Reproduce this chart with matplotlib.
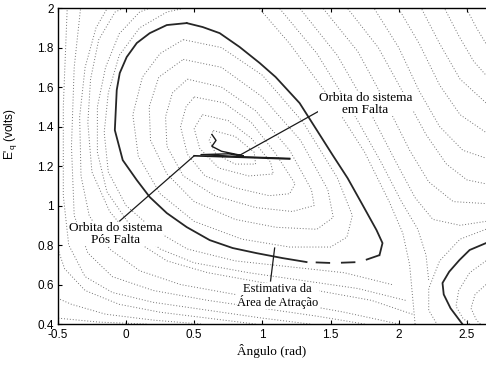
import matplotlib
matplotlib.use("Agg")
import matplotlib.pyplot as plt

# estimativa da area de atracao (curva cheia)
basin_x = [0.445, 0.562, 0.687, 0.833, 0.980, 1.097, 1.273, 1.390, 1.515, 1.625, 1.727, 1.837,
           1.881, 1.859, 1.712, 1.515, 1.324, 1.148, 0.958, 0.782, 0.614, 0.445, 0.299, 0.174,
           0.079, -0.024, -0.082, -0.068, -0.046, 0.005, 0.079, 0.174, 0.299, 0.445]
basin_y = [1.924, 1.904, 1.873, 1.803, 1.722, 1.651, 1.519, 1.392, 1.256, 1.139, 1.013, 0.876,
           0.810, 0.749, 0.714, 0.709, 0.714, 0.734, 0.759, 0.785, 0.825, 0.891, 0.962, 1.043,
           1.129, 1.230, 1.382, 1.585, 1.671, 1.752, 1.823, 1.873, 1.914, 1.924]

# separatriz no canto inferior direito
sep_x = [2.64, 2.52, 2.445, 2.37, 2.321, 2.330, 2.380, 2.445, 2.467]
sep_y = [0.810, 0.775, 0.724, 0.665, 0.608, 0.550, 0.480, 0.420, 0.400]

# orbita do sistema em falta
fault_x = [0.50, 0.86, 1.20]
fault_y = [1.252, 1.244, 1.236]

# orbita do sistema pos falta
post_x = [1.20, 0.86, 0.55, 0.75, 0.86, 0.70, 0.63, 0.66, 0.63]
post_y = [1.239, 1.247, 1.258, 1.262, 1.252, 1.275, 1.300, 1.330, 1.360]

# trajetorias pontilhadas
inner = [
    ([0.42, 0.70, 1.00, 1.30, 1.55, 1.66, 1.62, 1.50, 1.20, 0.85, 0.50, 0.25, 0.09, 0.05, 0.12, 0.25, 0.42],
     [1.84, 1.80, 1.66, 1.42, 1.14, 0.95, 0.84, 0.79, 0.79, 0.83, 0.92, 1.06, 1.25, 1.46, 1.65, 1.77, 1.84]),
    ([0.42, 0.70, 1.00, 1.28, 1.48, 1.52, 1.40, 1.10, 0.80, 0.50, 0.30, 0.18, 0.17, 0.24, 0.42],
     [1.74, 1.70, 1.55, 1.33, 1.08, 0.94, 0.88, 0.89, 0.93, 1.02, 1.16, 1.33, 1.50, 1.65, 1.74]),
    ([0.45, 0.70, 0.95, 1.20, 1.36, 1.38, 1.22, 0.95, 0.65, 0.42, 0.30, 0.29, 0.34, 0.45],
     [1.64, 1.60, 1.48, 1.28, 1.08, 1.00, 0.97, 0.99, 1.05, 1.15, 1.30, 1.45, 1.57, 1.64]),
    ([0.50, 0.72, 0.92, 1.10, 1.24, 1.20, 1.05, 0.80, 0.58, 0.45, 0.40, 0.44, 0.50],
     [1.55, 1.52, 1.42, 1.26, 1.11, 1.06, 1.05, 1.09, 1.15, 1.26, 1.40, 1.50, 1.55]),
    ([0.56, 0.75, 0.92, 1.06, 1.08, 0.90, 0.68, 0.54, 0.50, 0.56],
     [1.46, 1.43, 1.34, 1.22, 1.16, 1.15, 1.19, 1.29, 1.39, 1.46]),
    ([0.64, 0.80, 0.94, 0.95, 0.80, 0.66, 0.61, 0.64],
     [1.38, 1.35, 1.27, 1.21, 1.21, 1.26, 1.33, 1.38]),
]

outer = [
    ([1.95, 1.6, 1.2, 0.8, 0.45, 0.2, 0.0, -0.13, -0.16, -0.13, -0.05, 0.1, 0.3, 0.5, 0.7],
     [0.60, 0.66, 0.69, 0.72, 0.78, 0.88, 1.0, 1.17, 1.37, 1.57, 1.76, 1.9, 1.98, 2.01, 2.02]),
    ([2.05, 1.7, 1.3, 0.9, 0.5, 0.25, 0.02, -0.14, -0.21, -0.21, -0.15, -0.05, 0.1, 0.25],
     [0.52, 0.58, 0.62, 0.66, 0.71, 0.78, 0.91, 1.07, 1.27, 1.50, 1.70, 1.87, 1.98, 2.02]),
    ([2.1, 1.8, 1.4, 1.0, 0.6, 0.3, 0.05, -0.12, -0.25, -0.28, -0.26, -0.2, -0.08, 0.05],
     [0.45, 0.52, 0.57, 0.61, 0.66, 0.72, 0.83, 0.97, 1.17, 1.42, 1.64, 1.84, 1.98, 2.02]),
    ([2.0, 1.6, 1.2, 0.8, 0.4, 0.1, -0.12, -0.27, -0.33, -0.34, -0.30, -0.22, -0.12],
     [0.40, 0.46, 0.51, 0.55, 0.60, 0.67, 0.78, 0.95, 1.15, 1.45, 1.7, 1.9, 2.02]),
    ([1.75, 1.4, 1.0, 0.6, 0.2, -0.1, -0.28, -0.38, -0.40, -0.38, -0.33],
     [0.40, 0.44, 0.48, 0.52, 0.57, 0.64, 0.76, 0.95, 1.3, 1.7, 2.02]),
    ([1.35, 1.0, 0.6, 0.2, -0.1, -0.3, -0.42, -0.46, -0.46, -0.43],
     [0.40, 0.43, 0.47, 0.51, 0.56, 0.64, 0.80, 1.05, 1.5, 2.02]),
    ([0.95, 0.6, 0.25, -0.05, -0.3, -0.45, -0.5],
     [0.40, 0.43, 0.46, 0.50, 0.57, 0.68, 0.78]),
    ([0.55, 0.2, -0.15, -0.4, -0.5], [0.40, 0.42, 0.45, 0.50, 0.53]),
    ([0.15, -0.2, -0.5], [0.40, 0.41, 0.43]),
    ([0.95, 1.2, 1.5, 1.75, 1.93, 2.03, 2.08, 2.10, 2.12],
     [2.02, 1.82, 1.54, 1.27, 1.02, 0.86, 0.7, 0.55, 0.4]),
    ([1.1, 1.4, 1.65, 1.87, 2.02, 2.14, 2.2, 2.22],
     [2.02, 1.77, 1.49, 1.22, 1.02, 0.88, 0.75, 0.62]),
    ([1.25, 1.55, 1.8, 1.98, 2.12, 2.25, 2.45, 2.64],
     [2.02, 1.76, 1.46, 1.22, 1.04, 0.93, 0.90, 0.92]),
    ([1.42, 1.7, 1.92, 2.08, 2.22, 2.4, 2.64],
     [2.02, 1.78, 1.50, 1.28, 1.12, 1.02, 1.01]),
    ([1.6, 1.85, 2.05, 2.2, 2.35, 2.5, 2.64],
     [2.02, 1.8, 1.55, 1.36, 1.21, 1.13, 1.11]),
    ([1.8, 2.0, 2.15, 2.3, 2.47, 2.64], [2.02, 1.8, 1.58, 1.40, 1.28, 1.24]),
    ([1.98, 2.15, 2.3, 2.45, 2.64], [2.02, 1.82, 1.61, 1.46, 1.37]),
    ([2.15, 2.3, 2.45, 2.64], [2.02, 1.82, 1.64, 1.52]),
    ([2.32, 2.44, 2.55, 2.64], [2.02, 1.86, 1.73, 1.66]),
    ([2.48, 2.57, 2.64], [2.02, 1.9, 1.82]),
    ([2.64, 2.45, 2.3, 2.22, 2.22, 2.28], [0.88, 0.83, 0.72, 0.58, 0.47, 0.4]),
    ([2.64, 2.52, 2.44, 2.42, 2.47, 2.52], [0.72, 0.66, 0.57, 0.49, 0.43, 0.4]),
    ([2.64, 2.56, 2.53, 2.57, 2.6], [0.6, 0.55, 0.48, 0.42, 0.4]),
]

xticks = [-0.5, 0, 0.5, 1, 1.5, 2, 2.5]
xticklabels = ['-0.5', '0', '0.5', '1', '1.5', '2', '2.5']
yticks = [0.4, 0.6, 0.8, 1.0, 1.2, 1.4, 1.6, 1.8, 2.0]
yticklabels = ['0.4', '0.6', '0.8', '1', '1.2', '1.4', '1.6', '1.8', '2']

serif = 'Liberation Serif'
sans = 'Liberation Sans'

fig = plt.figure(figsize=(4.86, 3.67), dpi=100)
ax = fig.add_axes([0.119, 0.117, 0.881, 0.861])

dots = (0, (1, 2.0))
for xs, ys in inner + outer:
    ax.plot(xs, ys, color='0.45', lw=0.7, linestyle=dots)

# a parte de baixo da curva aparece tracejada no original
ax.plot(basin_x[:14], basin_y[:14], color='0.15', lw=1.3)
ax.plot(basin_x[13:17], basin_y[13:17], color='0.15', lw=1.3, dashes=(8, 6))
ax.plot(basin_x[16:], basin_y[16:], color='0.15', lw=1.3)
ax.plot(sep_x, sep_y, color='0.15', lw=1.3)
ax.plot(fault_x, fault_y, color='0.1', lw=1.2)
ax.plot(post_x, post_y, color='0.1', lw=1.0)

# indicadores das legendas
ax.plot([1.456, 0.811], [1.494, 1.246], color='0.1', lw=0.9)
ax.plot([-0.046, 0.50], [0.922, 1.252], color='0.1', lw=0.9)
ax.plot([1.06, 1.09], [0.618, 0.785], color='0.1', lw=0.9)

box = dict(facecolor='white', edgecolor='none', pad=0.3)
ax.text(1.756, 1.514, 'Orbita do sistema\nem Falta', ha='center', va='center',
        fontsize=9.5, family=serif, linespacing=0.95, bbox=box)
ax.text(-0.075, 0.856, 'Orbita do sistema\nPós Falta', ha='center', va='center',
        fontsize=9.5, family=serif, linespacing=0.95, bbox=box)
ax.text(1.112, 0.542, 'Estimativa da\nÁrea de Atração', ha='center', va='center',
        fontsize=9, family=serif, linespacing=0.95, bbox=box)

ax.set_xlim(-0.5, 2.64)
ax.set_ylim(0.4, 2.0)
ax.set_xticks(xticks)
ax.set_xticklabels(xticklabels, family=sans, fontsize=8.5)
ax.set_yticks(yticks)
ax.set_yticklabels(yticklabels, family=sans, fontsize=8.5)
ax.tick_params(direction='in', length=3, width=0.8, top=True)
ax.tick_params(axis='x', pad=3.5)
ax.tick_params(axis='y', pad=3)
ax.spines['right'].set_visible(False)
for s in ['left', 'bottom', 'top']:
    ax.spines[s].set_linewidth(1.0)

ax.set_xlabel('Ângulo (rad)', family=serif, fontsize=9.5, labelpad=2)
ax.set_ylabel("E'$_\\mathregular{q}$ (volts)", family=sans, fontsize=8.5)
ax.yaxis.set_label_coords(-0.09, 0.6)

fig.savefig('out.png', dpi=100)
